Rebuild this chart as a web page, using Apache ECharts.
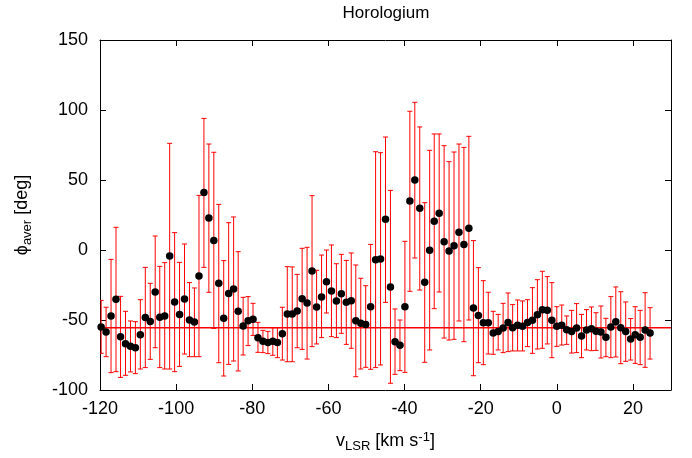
<!DOCTYPE html>
<html>
<head>
<meta charset="utf-8">
<script src="https://cdn.jsdelivr.net/npm/echarts@6/dist/echarts.min.js"></script>
<style>html,body{margin:0;padding:0;background:#fff;}#c{width:692px;height:458px;}</style>
</head>
<body>
<div id="c"></div>
<script>
const titleText = 'Horologium';
const xTicks = [-120, -100, -80, -60, -40, -20, 0, 20];
const yTicks = [-100, -50, 0, 50, 100, 150];
const refLevel = -55.5;

const vLSR = [
-119.7,-118.4,-117.1,-115.8,-114.6,-113.3,-112.0,-110.7,-109.4,-108.1,
-106.8,-105.5,-104.3,-103.0,-101.7,-100.4,-99.1,-97.8,-96.5,-95.2,
-94.0,-92.7,-91.4,-90.1,-88.8,-87.5,-86.2,-84.9,-83.7,-82.4,
-81.1,-79.8,-78.5,-77.2,-75.9,-74.6,-73.4,-72.1,-70.8,-69.5,
-68.2,-66.9,-65.6,-64.3,-63.1,-61.8,-60.5,-59.2,-57.9,-56.6,
-55.3,-54.0,-52.8,-51.5,-50.2,-48.9,-47.6,-46.3,-45.0,-43.7,
-42.5,-41.2,-39.9,-38.6,-37.3,-36.0,-34.7,-33.4,-32.2,-30.9,
-29.6,-28.3,-27.0,-25.7,-24.4,-23.1,-21.9,-20.6,-19.3,-18.0,
-16.7,-15.4,-14.1,-12.8,-11.6,-10.3,-9.0,-7.7,-6.4,-5.1,
-3.8,-2.5,-1.3,0.0,1.3,2.6,3.9,5.2,6.5,7.8,
9.1,10.3,11.6,12.9,14.2,15.5,16.8,18.1,19.4,20.6,
21.9,23.2,24.5
];

const phiAver = [
-55.0,-58.6,-47.1,-35.2,-61.9,-66.9,-68.8,-69.8,-60.5,-48.3,
-51.0,-30.0,-48.1,-47.1,-4.3,-37.1,-46.0,-35.0,-50.0,-51.4,
-18.6,41.0,22.9,6.7,-23.8,-48.8,-31.0,-27.9,-43.8,-54.3,
-50.5,-49.5,-62.6,-65.2,-66.0,-65.2,-66.0,-59.8,-45.7,-45.7,
-43.6,-34.8,-37.9,-15.0,-40.7,-33.6,-22.6,-29.3,-36.4,-31.2,
-37.4,-36.2,-50.5,-52.4,-53.3,-40.5,-6.9,-6.4,21.9,-26.4,
-65.5,-68.1,-40.5,35.0,50.0,29.8,-23.1,-0.2,20.5,26.2,
5.9,-0.7,3.1,12.6,4.0,15.5,-41.4,-46.7,-51.9,-51.9,
-59.3,-58.3,-55.7,-51.7,-55.5,-53.8,-54.5,-51.7,-50.2,-46.2,
-42.6,-43.1,-50.2,-54.5,-53.8,-56.9,-58.3,-55.7,-61.4,-57.1,
-56.2,-58.1,-58.6,-62.4,-55.0,-51.2,-55.5,-58.3,-63.6,-60.5,
-62.4,-57.1,-59.3
];

const errLow = [
-73.8,-76.2,-87.6,-86.9,-91.0,-89.5,-87.1,-88.3,-85.0,-84.0,
-78.1,-69.8,-84.0,-85.0,-85.0,-86.9,-83.1,-74.3,-76.2,-76.2,
-76.2,-12.4,-30.2,-56.0,-80.5,-90.0,-81.7,-79.3,-86.4,-75.0,
-68.3,-61.0,-73.1,-73.3,-74.0,-75.2,-76.9,-78.6,-79.8,-79.8,
-69.8,-71.0,-77.9,-69.0,-67.1,-62.6,-45.0,-61.9,-62.6,-59.5,
-67.4,-70.2,-90.5,-85.0,-83.8,-85.2,-84.0,-82.1,-37.4,-95.2,
-88.8,-86.2,-87.4,-29.5,-5.7,-28.6,-80.2,-71.4,-41.9,-30.0,
-62.9,-64.3,-63.8,-50.7,-65.5,-50.0,-89.8,-80.5,-81.9,-74.3,
-74.5,-71.4,-73.3,-72.6,-72.1,-72.1,-72.1,-69.0,-73.8,-70.7,
-70.2,-67.1,-76.9,-68.8,-67.9,-67.4,-73.6,-73.3,-76.9,-71.4,
-71.9,-71.7,-77.1,-76.2,-76.9,-76.4,-81.2,-79.5,-78.6,-81.0,
-81.9,-83.8,-77.9
];

const errHigh = [
-36.0,-40.9,-6.7,16.2,-33.1,-43.8,-50.7,-51.2,-35.5,-12.4,
-23.8,10.0,-11.7,-9.0,76.2,12.4,-8.8,4.3,-23.3,-27.1,
39.0,94.0,75.7,69.8,32.6,-7.6,19.5,23.6,-1.2,-33.8,
-33.3,-38.1,-51.7,-57.4,-58.1,-55.5,-55.5,-40.9,-11.9,-12.1,
-17.4,1.2,1.9,38.8,-14.5,-3.6,0.0,3.6,-9.8,-3.1,
-7.4,-2.1,-10.7,-20.2,-25.5,4.0,70.2,69.5,80.7,42.6,
-42.1,-50.0,6.2,99.1,105.5,87.9,33.8,71.2,82.9,82.9,
74.5,63.1,70.0,75.7,73.3,81.2,6.7,-12.6,-21.9,-30.2,
-43.8,-46.0,-38.1,-30.7,-39.0,-35.7,-36.4,-35.5,-26.9,-21.2,
-15.2,-19.0,-23.3,-40.5,-39.3,-47.1,-43.1,-38.3,-46.0,-42.6,
-40.7,-44.8,-40.0,-48.8,-33.3,-26.4,-29.8,-37.1,-49.0,-40.5,
-43.1,-30.5,-41.2
];

const FONT = 'Liberation Sans, Arial, Helvetica, sans-serif';
const points = vLSR.map((x, i) => [x, phiAver[i]]);
const bars = vLSR.map((x, i) => [x, errLow[i], errHigh[i]]);

const chart = echarts.init(document.getElementById('c'), null, {renderer: 'canvas'});

const baseX = {
  type: 'value', min: xTicks[0], max: 30, interval: 20,
  axisLine: {show: true, onZero: false, lineStyle: {color: '#000', width: 1}},
  axisTick: {show: true, inside: true, length: 6, lineStyle: {color: '#000'}},
  splitLine: {show: false}
};
const baseY = {
  type: 'value', min: yTicks[0], max: yTicks[yTicks.length - 1], interval: 50,
  axisLine: {show: true, onZero: false, lineStyle: {color: '#000', width: 1}},
  axisTick: {show: true, inside: true, length: 6, lineStyle: {color: '#000'}},
  splitLine: {show: false}
};

chart.setOption({
  animation: false,
  backgroundColor: '#fff',
  textStyle: {fontFamily: FONT},
  grid: {left: 100, right: 21, top: 40, bottom: 67},
  graphic: [{
    type: 'text', x: 386, y: 13,
    style: {text: titleText, textAlign: 'center', textVerticalAlign: 'middle',
      font: '17px ' + FONT, fill: '#000'}
  }],
  xAxis: [
    Object.assign({}, baseX, {
      position: 'bottom',
      axisLabel: {show: true, margin: 10, color: '#000', fontSize: 18, fontFamily: FONT, showMaxLabel: false},
      name: '{n|v}{sub|LSR}{n| [km s}{sup|-1}{n|]}',
      nameLocation: 'middle', nameGap: 40,
      nameTextStyle: {
        color: '#000', fontSize: 18, fontFamily: FONT,
        rich: {
          n: {fontSize: 18, fontFamily: FONT, color: '#000'},
          sub: {fontSize: 13, fontFamily: FONT, color: '#000', padding: [10, 0, 0, 0]},
          sup: {fontSize: 13, fontFamily: FONT, color: '#000', padding: [0, 0, 9, 0]}
        }
      }
    }),
    Object.assign({}, baseX, {position: 'top', axisLabel: {show: false}})
  ],
  yAxis: [
    Object.assign({}, baseY, {
      position: 'left',
      axisLabel: {show: true, margin: 12, color: '#000', fontSize: 18, fontFamily: FONT},
      name: '{n|ϕ}{sub|aver}{n| [deg]}',
      nameLocation: 'middle', nameGap: 66, nameRotate: 90,
      nameTextStyle: {
        color: '#000', fontSize: 18, fontFamily: FONT,
        rich: {
          n: {fontSize: 18, fontFamily: FONT, color: '#000'},
          sub: {fontSize: 13, fontFamily: FONT, color: '#000', padding: [10, 0, 0, 0]}
        }
      }
    }),
    Object.assign({}, baseY, {position: 'right', axisLabel: {show: false}})
  ],
  series: [
    {
      type: 'custom',
      xAxisIndex: 0, yAxisIndex: 0,
      data: bars,
      clip: true,
      z: 2,
      renderItem: function (params, api) {
        const x = api.value(0);
        const lo = api.coord([x, api.value(1)]);
        const hi = api.coord([x, api.value(2)]);
        const cap = 2.5;
        const st = {stroke: '#ff0000', lineWidth: 1};
        return {
          type: 'group',
          children: [
            {type: 'line', shape: {x1: lo[0], y1: lo[1], x2: hi[0], y2: hi[1]}, style: st},
            {type: 'line', shape: {x1: lo[0] - cap, y1: lo[1], x2: lo[0] + cap, y2: lo[1]}, style: st},
            {type: 'line', shape: {x1: hi[0] - cap, y1: hi[1], x2: hi[0] + cap, y2: hi[1]}, style: st}
          ]
        };
      }
    },
    {
      type: 'line',
      xAxisIndex: 0, yAxisIndex: 0,
      data: [[xTicks[0], refLevel], [30, refLevel]],
      symbol: 'none',
      lineStyle: {color: '#ff0000', width: 1.5},
      z: 3
    },
    {
      type: 'scatter',
      xAxisIndex: 0, yAxisIndex: 0,
      data: points,
      symbol: 'circle',
      symbolSize: 7.5,
      itemStyle: {color: '#000', opacity: 1},
      z: 4
    }
  ]
});
</script>
</body>
</html>
